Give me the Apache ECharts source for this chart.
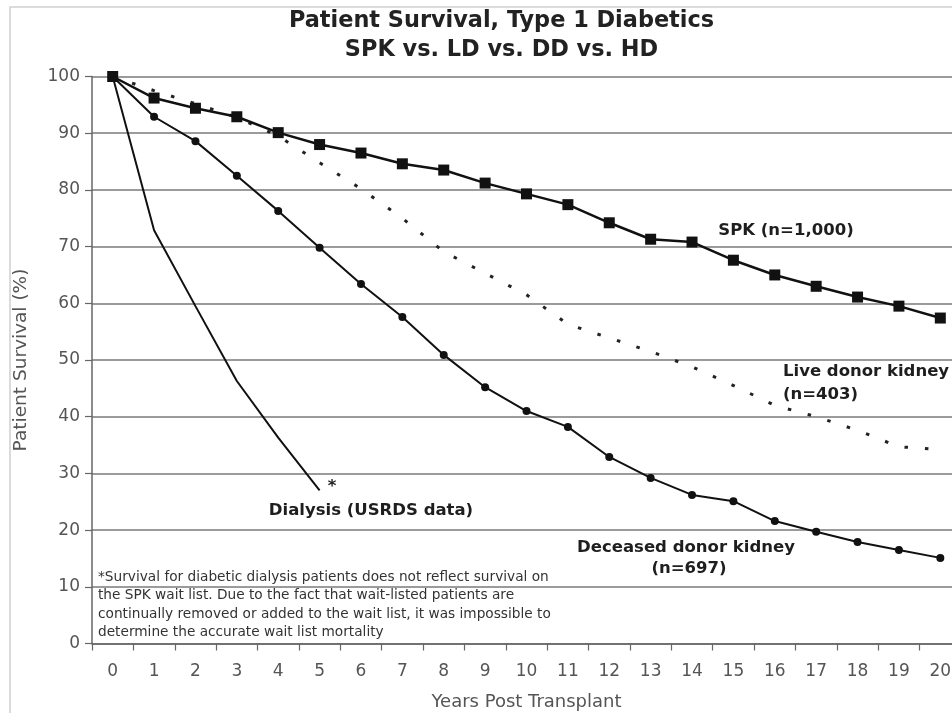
<!DOCTYPE html>
<html>
<head>
<meta charset="utf-8">
<script src="https://cdn.jsdelivr.net/npm/echarts@6/dist/echarts.min.js"></script>
<style>html,body{margin:0;padding:0;background:#fff;overflow:hidden;}#c{width:961px;height:713px;}</style>
</head>
<body>
<div id="c"></div>
<script>
const years = ['0','1','2','3','4','5','6','7','8','9','10','11','12','13','14','15','16','17','18','19','20'];
const spk = [100,96.2,94.4,92.9,90.1,88.0,86.5,84.6,83.5,81.2,79.3,77.4,74.2,71.3,70.8,67.6,65.0,63.0,61.1,59.5,57.4];
const liveDonor = [100,97.5,95.2,92.8,89.5,84.8,80.2,75.0,69.1,65.3,61.5,56.3,53.9,51.5,48.8,45.5,42.0,40.0,37.6,34.7,34.2];
const deceasedDonor = [100,92.9,88.6,82.5,76.3,69.8,63.4,57.6,50.9,45.2,41.0,38.2,32.9,29.2,26.2,25.1,21.6,19.7,17.9,16.5,15.1];
const dialysis = [100,72.9,59.5,46.3,36.3,27.0,null,null,null,null,null,null,null,null,null,null,null,null,null,null,null];

const footnote = '*Survival for diabetic dialysis patients does not reflect survival on\nthe SPK wait list. Due to the fact that wait-listed patients are\ncontinually removed or added to the wait list, it was impossible to\ndetermine the accurate wait list mortality';

const chart = echarts.init(document.getElementById('c'), null, {renderer: 'canvas'});
const lblFont = {fontFamily: 'DejaVu Sans', fontWeight: 'bold', fontSize: 16.5, fill: '#1e1e1e'};
function lbl(text, x, y, align) {
  return {type: 'text', x: x, y: y, z: 50, style: Object.assign({text: text, align: align || 'center', verticalAlign: 'middle'}, lblFont)};
}
chart.setOption({
  animation: false,
  backgroundColor: '#fff',
  title: {
    text: 'Patient Survival, Type 1 Diabetics\nSPK vs. LD vs. DD vs. HD',
    left: 496.5, top: 2, textAlign: 'center',
    textStyle: {fontFamily: 'DejaVu Sans', fontWeight: 'bold', fontSize: 22.4, lineHeight: 29, color: '#222'}
  },
  grid: {left: 92, right: 0, top: 76.5, bottom: 69.5, containLabel: false, outerBoundsMode: 'none'},
  xAxis: {
    type: 'category', data: years, boundaryGap: true,
    name: 'Years Post Transplant', nameLocation: 'middle', nameGap: 50,
    nameTextStyle: {fontFamily: 'DejaVu Sans', fontSize: 18, color: '#555'},
    axisLine: {lineStyle: {color: '#666', width: 1.5}},
    axisTick: {show: true, length: 7, lineStyle: {color: '#666', width: 1.2}},
    axisLabel: {fontFamily: 'DejaVu Sans', fontSize: 17, color: '#555', margin: 20},
    splitLine: {show: false}
  },
  yAxis: {
    type: 'value', min: 0, max: 100, interval: 10,
    name: 'Patient Survival (%)', nameLocation: 'middle', nameGap: 61, nameRotate: 90,
    nameTextStyle: {fontFamily: 'DejaVu Sans', fontSize: 18.5, color: '#555'},
    axisLine: {show: true, lineStyle: {color: '#666', width: 1.5}},
    axisTick: {show: true, length: 7, lineStyle: {color: '#666', width: 1.2}},
    axisLabel: {fontFamily: 'DejaVu Sans', fontSize: 17, color: '#555', margin: 12},
    splitLine: {show: true, lineStyle: {color: '#7a7a7a', width: 1.5}}
  },
  series: [
    {name: 'Live donor kidney', type: 'line', data: liveDonor, symbol: 'none', z: 3,
     lineStyle: {color: '#222', width: 3, type: [3.5, 17]}},
    {name: 'Dialysis', type: 'line', data: dialysis, symbol: 'none', z: 4, connectNulls: false,
     lineStyle: {color: '#111', width: 2}},
    {name: 'Deceased donor kidney', type: 'line', data: deceasedDonor, symbol: 'circle', symbolSize: 8, z: 5,
     itemStyle: {color: '#111'}, lineStyle: {color: '#111', width: 2}},
    {name: 'SPK', type: 'line', data: spk, symbol: 'rect', symbolSize: 11, z: 6,
     itemStyle: {color: '#111'}, lineStyle: {color: '#111', width: 2.5}}
  ],
  graphic: [
    {type: 'rect', shape: {x: 10, y: 7, width: 1000, height: 800}, style: {fill: 'none', stroke: '#cfcfcf', lineWidth: 1.5}, z: 0, silent: true},
    lbl('SPK (n=1,000)', 786, 231),
    lbl('Live donor kidney', 783, 372, 'left'),
    lbl('(n=403)', 783, 395, 'left'),
    lbl('Deceased donor kidney', 686, 548),
    lbl('(n=697)', 689, 569),
    lbl('Dialysis (USRDS data)', 371, 511),
    lbl('*', 332, 487),
    {type: 'text', x: 98, y: 568, z: 50,
     style: {text: footnote, fontFamily: 'DejaVu Sans', fontSize: 13.7, lineHeight: 18.4, fill: '#333', align: 'left', verticalAlign: 'top'}}
  ]
});
</script>
</body>
</html>
